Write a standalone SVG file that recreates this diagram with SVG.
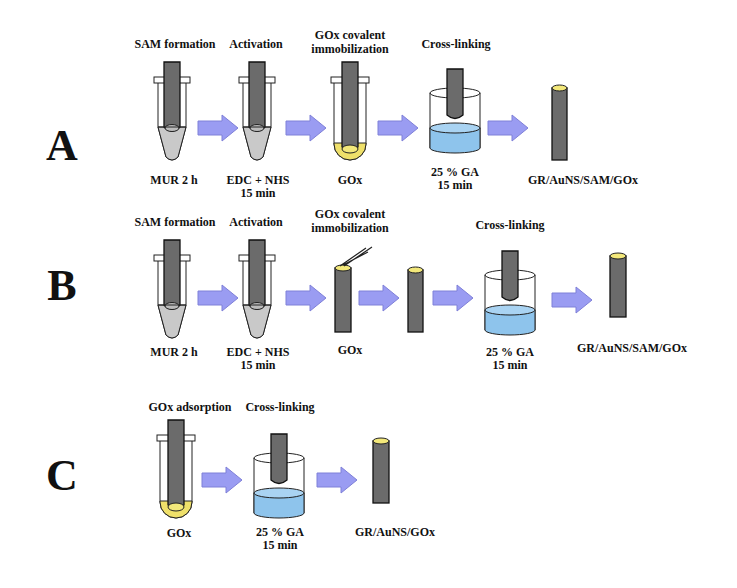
<svg xmlns="http://www.w3.org/2000/svg" xmlns:xlink="http://www.w3.org/1999/xlink" width="737" height="588" viewBox="0 0 737 588">
<style>
.t{font-family:"Liberation Serif",serif;font-weight:bold;font-size:12px;text-anchor:middle;fill:#111}
.L{font-family:"Liberation Serif",serif;font-weight:bold;font-size:44px;text-anchor:middle;fill:#111}
.rod{fill:#6b6b6b;stroke:#111;stroke-width:1.3}
.o{fill:none;stroke:#222;stroke-width:1}
.arr{fill:#9a9cf2;stroke:#7f80d8;stroke-width:1}
</style>
<defs>
<g id="tube">
<path d="M-14,6 V50 L-6,80 Q0,86 6,80 L14,50 V6" fill="#fff" stroke="#222"/>
<path d="M-14,50 L-6,80 Q0,86 6,80 L14,50 Z" fill="#c9c9c9" stroke="#222"/>
<rect x="-18" y="0" width="36" height="6" fill="#fff" stroke="#222"/>
<path d="M-8,-15 H8 V50 Q0,58 -8,50 Z" class="rod"/>
<ellipse cx="0" cy="51" rx="7" ry="3.5" fill="#bbb" stroke="#222"/>
<line x1="-14" y1="50" x2="14" y2="50" stroke="#222"/>
</g>
<g id="gtube">
<path d="M-16,6 V67 A16,16 0 0 0 16,67 V6" fill="#fff" stroke="#222"/>
<path d="M-16,66 V67 A16,16 0 0 0 16,67 V66 Z" fill="#efe06a" stroke="#222"/>
<rect x="-19" y="0" width="38" height="6" fill="#fff" stroke="#222"/>
<path d="M-8,-15 H8 V70 Q0,76 -8,70 Z" class="rod"/>
<ellipse cx="0" cy="72" rx="8" ry="4" fill="#f3e87a" stroke="#222"/>
</g>
<g id="beaker">
<path d="M-25,0 V55" class="o"/><path d="M25,0 V55" class="o"/>
<ellipse cx="0" cy="0" rx="25" ry="5" class="o"/>
<path d="M-25,35 V55 A25,5 0 0 0 25,55 V35 Z" fill="#8ec4ec" stroke="#222"/>
<ellipse cx="0" cy="35" rx="25" ry="5" fill="#a9d3f2" stroke="#222"/>
<path d="M-8,-24 H8 V22 Q0,29 -8,22 Z" class="rod"/>
</g>
<g id="arrow"><path d="M0,-7 H24 V-13 L40,0 L24,13 V7 H0 Z" class="arr"/></g>
</defs>

<text class="L" x="62" y="160">A</text>
<text class="L" x="62" y="300">B</text>
<text class="L" x="62" y="490">C</text>

<g id="connectors">
<use xlink:href="#arrow" x="198" y="128"/>
<use xlink:href="#arrow" x="286" y="128"/>
<use xlink:href="#arrow" x="378" y="128"/>
<use xlink:href="#arrow" x="488" y="128"/>
<use xlink:href="#arrow" x="198" y="298"/>
<use xlink:href="#arrow" x="286" y="298"/>
<use xlink:href="#arrow" x="359" y="298"/>
<use xlink:href="#arrow" x="433" y="298"/>
<use xlink:href="#arrow" x="552" y="300"/>
<use xlink:href="#arrow" x="202" y="480"/>
<use xlink:href="#arrow" x="317" y="480"/>
</g>

<g id="A1"><use xlink:href="#tube" x="172" y="77"/>
<text class="t" x="175" y="48">SAM formation</text><text class="t" x="174" y="184">MUR 2 h</text></g>
<g id="A2"><use xlink:href="#tube" x="257" y="77"/>
<text class="t" x="256" y="48">Activation</text><text class="t" x="258" y="184">EDC + NHS</text><text class="t" x="258" y="197">15 min</text></g>
<g id="A3"><use xlink:href="#gtube" x="350" y="77"/>
<text class="t" x="350" y="39">GOx covalent</text><text class="t" x="350" y="53">immobilization</text><text class="t" x="350" y="184">GOx</text></g>
<g id="A4"><use xlink:href="#beaker" x="455" y="93"/>
<text class="t" x="456" y="48">Cross-linking</text><text class="t" x="455" y="176">25 % GA</text><text class="t" x="455" y="189">15 min</text></g>
<g id="A5"><rect x="552" y="88" width="15" height="72" class="rod"/>
<ellipse cx="559.5" cy="88" rx="7.5" ry="3" fill="#f3e87a" stroke="#222"/>
<text class="t" x="583" y="184">GR/AuNS/SAM/GOx</text></g>

<g id="B1"><use xlink:href="#tube" x="172" y="255"/>
<text class="t" x="175" y="226">SAM formation</text><text class="t" x="174" y="356">MUR 2 h</text></g>
<g id="B2"><use xlink:href="#tube" x="257" y="255"/>
<text class="t" x="256" y="226">Activation</text><text class="t" x="258" y="356">EDC + NHS</text><text class="t" x="258" y="369">15 min</text></g>
<g id="B3"><rect x="335" y="268" width="16" height="64" class="rod"/>
<ellipse cx="343" cy="268" rx="8" ry="3" fill="#f3e87a" stroke="#222"/>
<path d="M340,266 L366,248 M344,266 L372,247 M343,265 L368,252" stroke="#222" stroke-width="1.2" fill="none"/>
<text class="t" x="350" y="218">GOx covalent</text><text class="t" x="350" y="232">immobilization</text><text class="t" x="350" y="354">GOx</text></g>
<g id="B4"><rect x="408" y="270" width="15" height="62" class="rod"/>
<ellipse cx="415.5" cy="270" rx="7.5" ry="3" fill="#f3e87a" stroke="#222"/></g>
<g id="B5"><use xlink:href="#beaker" x="510" y="275"/>
<text class="t" x="510" y="229">Cross-linking</text><text class="t" x="510" y="356">25 % GA</text><text class="t" x="510" y="369">15 min</text></g>
<g id="B6"><rect x="610" y="256" width="16" height="61" class="rod"/>
<ellipse cx="618" cy="256" rx="8" ry="3" fill="#f3e87a" stroke="#222"/>
<text class="t" x="632" y="352">GR/AuNS/SAM/GOx</text></g>

<g id="C1"><use xlink:href="#gtube" x="176" y="435"/>
<text class="t" x="190" y="411">GOx adsorption</text><text class="t" x="179" y="537">GOx</text></g>
<g id="C2"><use xlink:href="#beaker" x="279" y="458"/>
<text class="t" x="280" y="411">Cross-linking</text><text class="t" x="280" y="536">25 % GA</text><text class="t" x="280" y="549">15 min</text></g>
<g id="C3"><rect x="373" y="441" width="16" height="62" class="rod"/>
<ellipse cx="381" cy="441" rx="8" ry="3" fill="#f3e87a" stroke="#222"/>
<text class="t" x="395" y="536">GR/AuNS/GOx</text></g>
</svg>
